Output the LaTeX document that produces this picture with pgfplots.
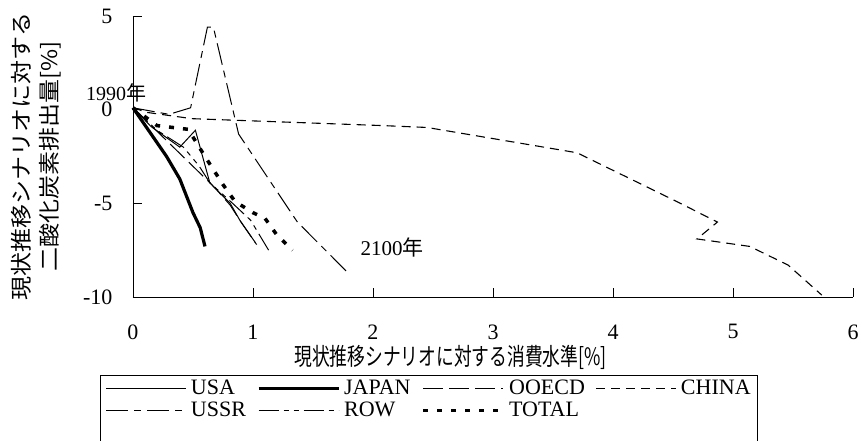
\documentclass[border=0pt]{standalone}
\usepackage{fontspec}
\setmainfont{Liberation Serif}
\newfontfamily\jp{Noto Sans CJK JP}
\usepackage{pgfplots}
\pgfplotsset{compat=1.18}
\begin{document}
\begin{tikzpicture}
\begin{axis}[
  scale only axis, width=720pt, height=281pt,
  xmin=0, xmax=6, ymin=-10, ymax=5,
  axis x line*=bottom, axis y line*=left,
  axis line style={-, line width=0.9pt},
  xtick={0,1,2,3,4,5,6}, ytick={-10,-5,0,5},
  tick align=inside, major tick length=9pt,
  tick style={line width=0.9pt, black},
  /pgf/number format/assume math mode=true,
  ticklabel style={font=\fontsize{22}{22}\selectfont},
  xticklabel style={yshift=-24pt},
  yticklabel style={xshift=-17pt},
  clip=false,
  xlabel={\scalebox{0.74}[1]{現状推移シナリオに対する消費水準[\%]}},
  xlabel style={at={(axis description cs:0.441,-0.215)}, anchor=center, font=\jp\fontsize{24}{24}\selectfont},
  ylabel={\scalebox{1}[0.9]{現状推移シナリオに対する}\\\scalebox{1}[0.9]{二酸化炭素排出量[\%]}},
  ylabel style={at={(axis description cs:-0.134,0.5)}, anchor=center, align=center, font=\jp\fontsize{24}{28}\selectfont},
  legend columns=4,
  legend cell align=left,
  legend image code/.code={\draw[#1] (0pt,0pt) -- (80pt,0pt);},
  legend style={at={(axis description cs:-0.042,-0.278)}, anchor=north west,
    draw=none, fill=none, font=\fontsize{22}{22}\selectfont,
    nodes={inner sep=2pt},
    /tikz/every even column/.append style={column sep=9pt},
    /tikz/every odd column/.append style={column sep=2pt},
    row sep=2pt, inner xsep=3pt, inner ysep=3pt},
]
% USA
\addplot[black, line width=1pt] coordinates {(0,0.1) (0.15,-0.9) (0.39,-2.0) (0.52,-1.1) (0.64,-3.9) (0.81,-5.0) (0.89,-5.9) (1.02,-7.1)};
\addlegendentry{USA}
% JAPAN
\addplot[black, line width=3.2pt] coordinates {(0,0.1) (0.14,-1.2) (0.28,-2.5) (0.39,-3.7) (0.5,-5.5) (0.56,-6.3) (0.6,-7.3)};
\addlegendentry{JAPAN}
% OOECD
\addplot[black, line width=1pt, dash pattern=on 20pt off 6pt] coordinates {(0,0.1) (0.64,-3.9) (0.70,-4.3) (0.81,-5.1) (0.90,-6.0) (1.03,-7.2)};
\addlegendentry{OOECD}
% CHINA
\addplot[black, line width=1.1pt, dash pattern=on 9pt off 6pt] coordinates {(0,0.1) (0.12,-0.15) (0.49,-0.48) (1.0,-0.6) (2.08,-0.85) (2.45,-0.95) (3.7,-2.3) (4.53,-4.9) (4.87,-6.0) (4.7,-6.9) (5.14,-7.3) (5.46,-8.3) (5.74,-9.9)};
\addlegendentry{CHINA}
% USSR
\addplot[black, line width=1pt, dash pattern=on 22pt off 6pt on 7pt off 6pt] coordinates {(0,0.1) (0.3,-0.25) (0.48,0.1) (0.62,4.4) (0.67,4.4) (0.88,-1.3) (1.37,-6.0) (1.79,-8.7)};
\addlegendentry{USSR}
% ROW
\addplot[black, line width=1pt, dash pattern=on 20pt off 5pt on 5pt off 5pt on 5pt off 5pt] coordinates {(0,0.1) (0.2,-1.1) (0.42,-2.0) (0.55,-3.0) (0.64,-3.9) (0.83,-5.0) (0.98,-5.9) (1.13,-7.5)};
\addlegendentry{ROW}
% TOTAL
\addplot[black, line width=3.5pt, dash pattern=on 5pt off 9pt] coordinates {(0,0.1) (0.2,-0.85) (0.46,-1.05) (0.6,-2.5) (0.75,-4.0) (0.85,-4.9) (1.0,-5.5) (1.1,-5.8) (1.2,-6.7) (1.33,-7.5)};
\addlegendentry{TOTAL}
\draw[line width=0.8pt] (axis description cs:-0.0458,-0.56) -- (axis description cs:-0.0458,-0.2776) -- (axis description cs:0.8667,-0.2776) -- (axis description cs:0.8667,-0.56);
\node[font=\fontsize{20}{20}\selectfont] at (axis cs:-0.14,0.9) {1990\jp 年};
\node[font=\fontsize{21}{21}\selectfont] at (axis cs:2.16,-7.38) {2100\jp 年};
\end{axis}
\pgfresetboundingbox
\path[use as bounding box] (-133pt,-144pt) rectangle (729pt,297pt);
\end{tikzpicture}
\end{document}
